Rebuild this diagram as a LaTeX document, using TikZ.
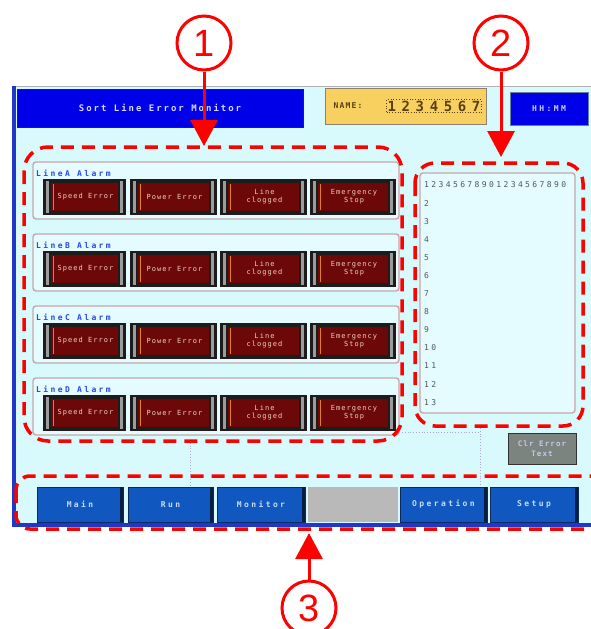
\documentclass[tikz,border=0pt]{standalone}
\usepackage{fontspec}
\setmainfont{Liberation Sans}
\newfontfamily\scrwide{DejaVu Sans Mono}[LetterSpace=30]
\newfontfamily\scrmid{DejaVu Sans Mono}[LetterSpace=15]
\newfontfamily\scrtitle{DejaVu Sans Mono}[LetterSpace=22]
\newfontfamily\scrname{DejaVu Sans Mono}[LetterSpace=40]
\usetikzlibrary{arrows.meta}
\definecolor{mred}{HTML}{FF0000}
\definecolor{scrbg}{HTML}{D8FAFC}
\definecolor{scrblue}{HTML}{2038C8}
\definecolor{titleblue}{HTML}{0000E8}
\definecolor{nameyellow}{HTML}{F8D060}
\definecolor{namebrown}{HTML}{5A4010}
\definecolor{panelfill}{HTML}{E4FCFF}
\definecolor{panelborder}{HTML}{C4A8AC}
\definecolor{labelblue}{HTML}{2848E0}
\definecolor{btnframe}{HTML}{1C1C1C}
\definecolor{btnbevel}{HTML}{9C9C9C}
\definecolor{btnred}{HTML}{6C0808}
\definecolor{btnorange}{HTML}{E08020}
\definecolor{btntxt}{HTML}{F0D0C4}
\definecolor{navblue}{HTML}{1058C0}
\definecolor{navdark}{HTML}{0A2A60}
\definecolor{navtxt}{HTML}{C8DCF4}
\definecolor{listtxt}{HTML}{505858}
\definecolor{dotcol}{HTML}{B0A8D0}
\definecolor{clrgrey}{HTML}{7C8480}
\definecolor{clrtxt}{HTML}{C4C8EC}
\begin{document}
\begin{tikzpicture}[x=1pt,y=-1pt,
  callout/.style={circle, draw=mred, line width=3pt, minimum size=54pt, inner sep=0pt,
    text=mred, font=\fontsize{38}{38}\selectfont},
  callarrow/.style={draw=mred, line width=3pt, -{Triangle[length=26pt,width=27pt]}},
  zone/.style={draw=mred, line width=3.5pt, dash pattern=on 13pt off 8pt},
  grouppanel/.style={fill=panelfill, draw=panelborder, line width=1.4pt, rounded corners=3pt},
  grouplabel/.style={text=labelblue, font=\scrwide\bfseries\fontsize{8}{9}\selectfont, inner sep=0pt},
  btntext/.style={text=btntxt, font=\scrmid\fontsize{7}{8}\selectfont, align=center, inner sep=0pt},
  navbtn/.style={fill=navblue, draw=navdark, line width=0.8pt, text=navtxt,
    font=\scrwide\bfseries\fontsize{8}{9}\selectfont, inner sep=0pt},
  listline/.style={text=listtxt, font=\scrwide\fontsize{8}{9}\selectfont, inner sep=0pt, anchor=west},
  dotline/.style={draw=dotcol, line width=0.8pt, dotted}
]
\useasboundingbox (0,0) rectangle (591,629);
\fill[white] (0,0) rectangle (591,629);

% screen
\fill[scrbg] (14,86) rectangle (600,527);
\draw[gray!60, line width=0.8pt] (14,86.5) -- (600,86.5);
\fill[scrblue] (12,86) rectangle (16,527);
\fill[scrblue] (12,523) rectangle (600,527);

% header
\node[fill=titleblue, draw=navdark, line width=0.8pt, minimum width=286pt, minimum height=38pt,
  text=white!85!blue, font=\scrtitle\bfseries\fontsize{9}{10}\selectfont] (title) at (160,108) {Sort Line Error Monitor};
\node[fill=nameyellow, draw=gray!80!brown, line width=1pt, minimum width=161pt, minimum height=36pt] (namebox) at (405.5,106) {};
\node[text=namebrown, font=\scrmid\bfseries\fontsize{8}{9}\selectfont, inner sep=0pt] (namelbl) at (348,106) {NAME:};
\node[text=namebrown, font=\scrname\bfseries\fontsize{14}{14}\selectfont, inner sep=1pt, draw=namebrown, dotted, line width=0.7pt] (nameval) at (434,106) {1234567};
\node[fill=titleblue, draw=navdark!60, line width=1pt, minimum width=78pt, minimum height=33pt,
  text=white!80!blue, font=\scrwide\bfseries\fontsize{8}{9}\selectfont] (clock) at (549,108.5) {HH:MM};

% dotted guide lines
\draw[dotline] (190,440) -- (190,487);
\draw[dotline] (480,428) -- (480,487);
\draw[dotline] (402,432) -- (480,432);

% line groups
\foreach \L [count=\i from 0] in {A,B,C,D} {
  \pgfmathsetmacro\ya{162+72*\i}
  \draw[grouppanel] (33,\ya) rectangle (399,\ya+57);
  \node[grouplabel, anchor=west] (lbl\L) at (36,\ya+11) {Line\L\ Alarm};
  \foreach \xa/\xb/\txt [count=\j] in {43/126/{Speed Error}, 130/217/{Power Error}, 220/307/{Line\\clogged}, 310/396/{Emergency\\Stop}} {
    \fill[btnframe] (\xa,\ya+17) rectangle (\xb,\ya+53);
    \fill[btnbevel] (\xa+3,\ya+19) rectangle (\xb-3,\ya+51);
    \fill[btnframe] (\xa+6,\ya+19) rectangle (\xb-6,\ya+51);
    \fill[btnred] (\xa+8,\ya+21) rectangle (\xb-8,\ya+49);
    \draw[btnorange, line width=1pt] (\xa+10,\ya+22) -- (\xa+10,\ya+48);
    \node[btntext] (b\L\j) at ({(\xa+\xb)/2+1},\ya+35) {\txt};
  }
}

% error list
\draw[grouppanel, fill=panelfill] (420,173) rectangle (575,413);
\node[listline] (ln1) at (424,185) {12345678901234567890};
\foreach \k in {2,...,13} {
  \node[listline] (ln\k) at (424,{185+18.1*(\k-1)}) {\k};
}

% clear button
\node[fill=clrgrey, draw=gray!40!black, line width=1pt, minimum width=68pt, minimum height=31pt,
  text=clrtxt, font=\scrmid\bfseries\fontsize{7.5}{10}\selectfont, align=center, inner sep=0pt] (clr) at (542,448.5) {Clr Error\\Text};

% navigation bar
\foreach \xa/\xb/\txt/\nm in {37/123/Main/main, 128/213/Run/run, 217/305/Monitor/monitor, 400/487/Operation/oper, 490/578/Setup/setup} {
  \node[navbtn, minimum width={(\xb-\xa)*1pt}, minimum height=35pt] (\nm) at ({(\xa+\xb)/2},504.5) {\txt};
  \fill[navdark!70!black] (\xb-3,487) rectangle (\xb,522);
}
\node[fill=gray!55, minimum width=90pt, minimum height=35pt, inner sep=0pt] (blank) at (353,504.5) {};

% marked zones
\draw[zone, rounded corners=24pt] (24,147) rectangle (402,441);
\draw[zone, rounded corners=20pt] (415,163) rectangle (583,426);
\draw[zone, rounded corners=14pt] (16,476) rectangle (640,529);

% callouts
\node[callout] (c1) at (204,43) {1};
\node[callout] (c2) at (501,43) {2};
\node[callout] (c3) at (309,608) {3};
\coordinate (t1) at (204,146);
\coordinate (t2) at (501,157);
\coordinate (t3) at (309,533);
\draw[callarrow] (c1.south) -- (t1);
\draw[callarrow] (c2.south) -- (t2);
\draw[callarrow] (c3.north) -- (t3);
\end{tikzpicture}
\end{document}
